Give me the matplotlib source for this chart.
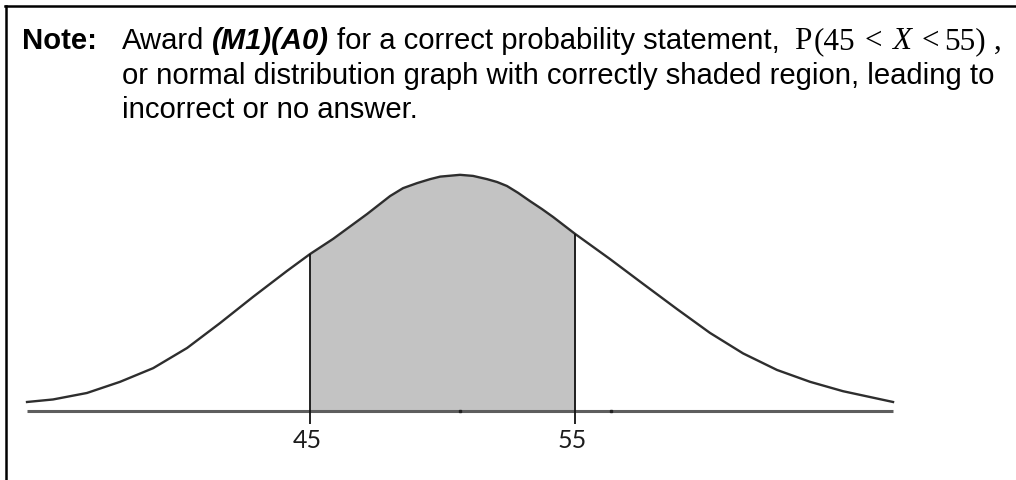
import numpy as np
import matplotlib
matplotlib.use("Agg")
import matplotlib.pyplot as plt
from matplotlib.lines import Line2D

# curve: x value and relative density height
x_vals = [34.32, 35.30, 36.58, 37.83, 39.08, 40.36, 41.60, 42.85, 44.13, 45.00,
          45.87, 47.15, 48.02, 48.51, 49.04, 49.53, 49.91, 50.66, 51.15, 51.68,
          52.06, 52.43, 52.85, 53.30, 53.75, 54.17, 55.00, 56.32, 57.57, 58.85,
          60.09, 61.34, 62.62, 63.87, 65.11, 67.00]
pdf_vals = [0.0025, 0.0032, 0.0050, 0.0081, 0.0119, 0.0175, 0.0244, 0.0317, 0.0389, 0.0436,
            0.0478, 0.0547, 0.0597, 0.0619, 0.0633, 0.0644, 0.0651, 0.0656, 0.0653, 0.0644,
            0.0636, 0.0625, 0.0606, 0.0583, 0.0561, 0.0539, 0.0492, 0.0422, 0.0353, 0.0283,
            0.0217, 0.0160, 0.0114, 0.0081, 0.0055, 0.0025]
bounds = [45, 55]
bound_labels = ["45", "55"]
axis_dots = [50.66, 56.36]

W, H = 1016, 481
fig = plt.figure(figsize=(W / 100, H / 100), dpi=100)
ax = fig.add_axes([0, 0, 1, 1])
ax.set_xlim(33.30, 71.64)
ax.set_ylim(-0.01917, 0.11444)
ax.axis('off')

x = np.array(x_vals)
y = np.array(pdf_vals)
mask = (x >= bounds[0]) & (x <= bounds[1])
ax.fill_between(x, 0, y, where=mask, color='#c3c3c3', lw=0)
ax.hlines(0, x[0], x[-1], color='#5e5e5e', lw=2.2, zorder=2)
ax.plot(x, y, color='#2e2e2e', lw=1.7, zorder=3, solid_joinstyle='round')
tops = [y[list(x_vals).index(b)] for b in bounds]
ax.vlines(bounds, -0.0036, tops, color='#111111', lw=1.3, zorder=4)
ax.plot(axis_dots, [0, 0], 's', ms=2, color='#222222', zorder=4)
for b, lab in zip(bounds, bound_labels):
    ax.text(b - 0.1, -0.0078, lab, ha='center', va='center', fontsize=18,
            family='Lato', color='#1c1c1c')

# frame lines (top and left)
fig.add_artist(Line2D([5 / W, 1], [1 - 7 / H, 1 - 7 / H], color='black', lw=1.8))
fig.add_artist(Line2D([6 / W, 6 / W], [0, 1 - 7 / H], color='black', lw=1.8))

renderer = fig.canvas.get_renderer()
fs = 21.1
sans = dict(family='Liberation Sans', fontsize=fs, color='black')
serif = dict(family='Liberation Serif', fontsize=22.4, color='black')


def run(x_px, y_px, parts):
    xp = x_px
    for s, kw, gap in parts:
        t = fig.text(xp / W, 1 - y_px / H, s, ha='left', va='baseline', **kw)
        bb = t.get_window_extent(renderer)
        xp = bb.x1 + gap


run(22, 49, [("Note:", dict(sans, weight='bold'), 0)])
run(122, 49, [
    ("Award", sans, 8),
    ("(M1)(A0)", dict(sans, weight='bold', style='italic'), 8),
    ("for a correct probability statement,", sans, 14),
    ("P", serif, 2),
    ("(45", serif, 9),
    ("<", serif, 10),
    ("X", dict(serif, style='italic'), 11),
    ("<", serif, 5),
    ("55)", serif, 8),
    (",", serif, 0),
])
run(122, 84, [("or normal distribution graph with correctly shaded region, leading to", sans, 0)])
run(122, 118, [("incorrect or no answer.", sans, 0)])

fig.savefig("out.png", dpi=100, facecolor='white')
